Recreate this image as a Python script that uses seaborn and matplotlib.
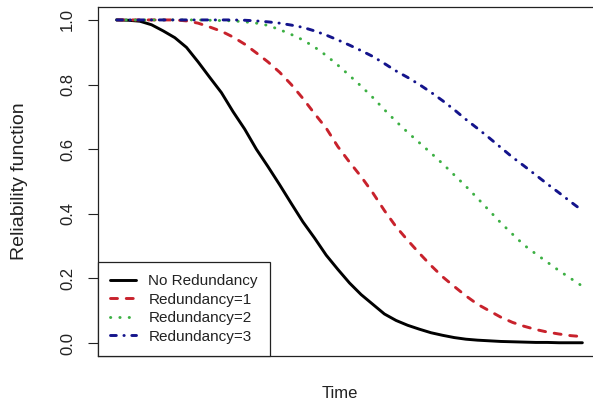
import numpy as np
import pandas as pd
import matplotlib
matplotlib.use("Agg")
import matplotlib.pyplot as plt
import seaborn as sns

# ---- data ----
time = [0, 0.25, 0.5, 0.75, 1, 1.25, 1.5, 1.75, 2, 2.25, 2.5, 2.75, 3, 3.25, 3.5, 3.75,
        4, 4.25, 4.5, 4.75, 5, 5.25, 5.5, 5.75, 6, 6.25, 6.5, 6.75, 7, 7.25, 7.5, 7.75,
        8, 8.25, 8.5, 8.75, 9, 9.25, 9.5, 9.75, 10]
no_redundancy = [1.0, 0.999, 0.996, 0.985, 0.966, 0.945, 0.915, 0.87, 0.822, 0.775, 0.716,
                 0.662, 0.60, 0.546, 0.49, 0.432, 0.375, 0.325, 0.272, 0.228, 0.186,
                 0.15, 0.12, 0.09, 0.07, 0.055, 0.043, 0.032, 0.024, 0.017, 0.012,
                 0.009, 0.007, 0.005, 0.004, 0.003, 0.002, 0.002, 0.001, 0.001, 0.001]
redundancy_1 = [1.0, 1.0, 1.0, 1.0, 1.0, 1.0, 0.997, 0.99, 0.978, 0.965, 0.947,
                0.925, 0.898, 0.87, 0.838, 0.80, 0.757, 0.71, 0.665, 0.608, 0.56,
                0.515, 0.465, 0.41, 0.36, 0.318, 0.278, 0.24, 0.205, 0.175, 0.146,
                0.12, 0.10, 0.08, 0.064, 0.052, 0.042, 0.034, 0.028, 0.023, 0.02]
redundancy_2 = [1.0, 1.0, 1.0, 1.0, 1.0, 1.0, 1.0, 1.0, 0.999, 0.998, 0.997,
                0.994, 0.99, 0.983, 0.97, 0.955, 0.938, 0.916, 0.89, 0.86, 0.828,
                0.795, 0.76, 0.722, 0.686, 0.652, 0.62, 0.588, 0.555, 0.52, 0.485,
                0.448, 0.41, 0.372, 0.337, 0.303, 0.276, 0.25, 0.224, 0.20, 0.176]
redundancy_3 = [1.0, 1.0, 1.0, 1.0, 1.0, 1.0, 1.0, 1.0, 1.0, 1.0, 1.0,
                0.999, 0.997, 0.994, 0.99, 0.984, 0.977, 0.966, 0.953, 0.938, 0.922,
                0.905, 0.887, 0.865, 0.842, 0.822, 0.80, 0.776, 0.75, 0.722, 0.692,
                0.664, 0.635, 0.605, 0.575, 0.548, 0.52, 0.492, 0.465, 0.437, 0.41]
labels = ["No Redundancy", "Redundancy=1", "Redundancy=2", "Redundancy=3"]
yticks = [0.0, 0.2, 0.4, 0.6, 0.8, 1.0]

series = [no_redundancy, redundancy_1, redundancy_2, redundancy_3]
colors = ["#000000", "#c8222c", "#3cb043", "#14148c"]
styles = ["-", (0, (2.4, 3.0)), (0, (0.1, 3.1)), (0, (2.0, 2.6, 0.1, 2.6))]

sns.set_theme(style="white")
plt.rcParams["font.family"] = ["Liberation Sans", "DejaVu Sans"]

fig = plt.figure(figsize=(5.93, 4.07), dpi=100)
ax = fig.add_axes([98 / 593, 1 - 356 / 407, (601 - 98) / 593, (356 - 7) / 407])

for vals, lab, col, ls in zip(series, labels, colors, styles):
    df = pd.DataFrame({"Time": time, "R": vals})
    sns.lineplot(data=df, x="Time", y="R", ax=ax, color=col, label=lab,
                 linestyle=ls, linewidth=2.1, dash_capstyle="round",
                 solid_capstyle="round", solid_joinstyle="round")

ax.set_xlim(-0.4, 10.4)
ax.set_ylim(-0.04, 1.04)
ax.set_xticks([])
ax.set_yticks(yticks)
ax.set_yticklabels([f"{v:.1f}" for v in yticks], rotation=90, va="center",
                   fontsize=12, color="#222222")
ax.tick_params(axis="y", left=True, length=7.5, width=0.8, color="#222222", pad=9)

for s in ax.spines.values():
    s.set_visible(True)
    s.set_color("#222222")
    s.set_linewidth(0.9)

ax.set_xlabel("Time", fontsize=12, color="#222222")
ax.xaxis.set_label_coords((340 - 98) / 503, -(393 - 356) / 349)
ax.xaxis.label.set_va("center")
ax.set_ylabel("Reliability function", fontsize=14, color="#222222")
ax.yaxis.set_label_coords(-(98 - 20) / 503, 0.5)
ax.yaxis.label.set_va("center")

leg = ax.legend(loc="lower left", bbox_to_anchor=(0, 0), borderaxespad=0,
                fancybox=False, framealpha=1, edgecolor="#222222",
                prop={"size": 11}, handlelength=1.7, handletextpad=0.8,
                labelspacing=0.3, borderpad=0.8)
leg.get_frame().set_linewidth(0.9)
for t in leg.get_texts():
    t.set_color("#222222")

fig.savefig("out.png", dpi=100)
